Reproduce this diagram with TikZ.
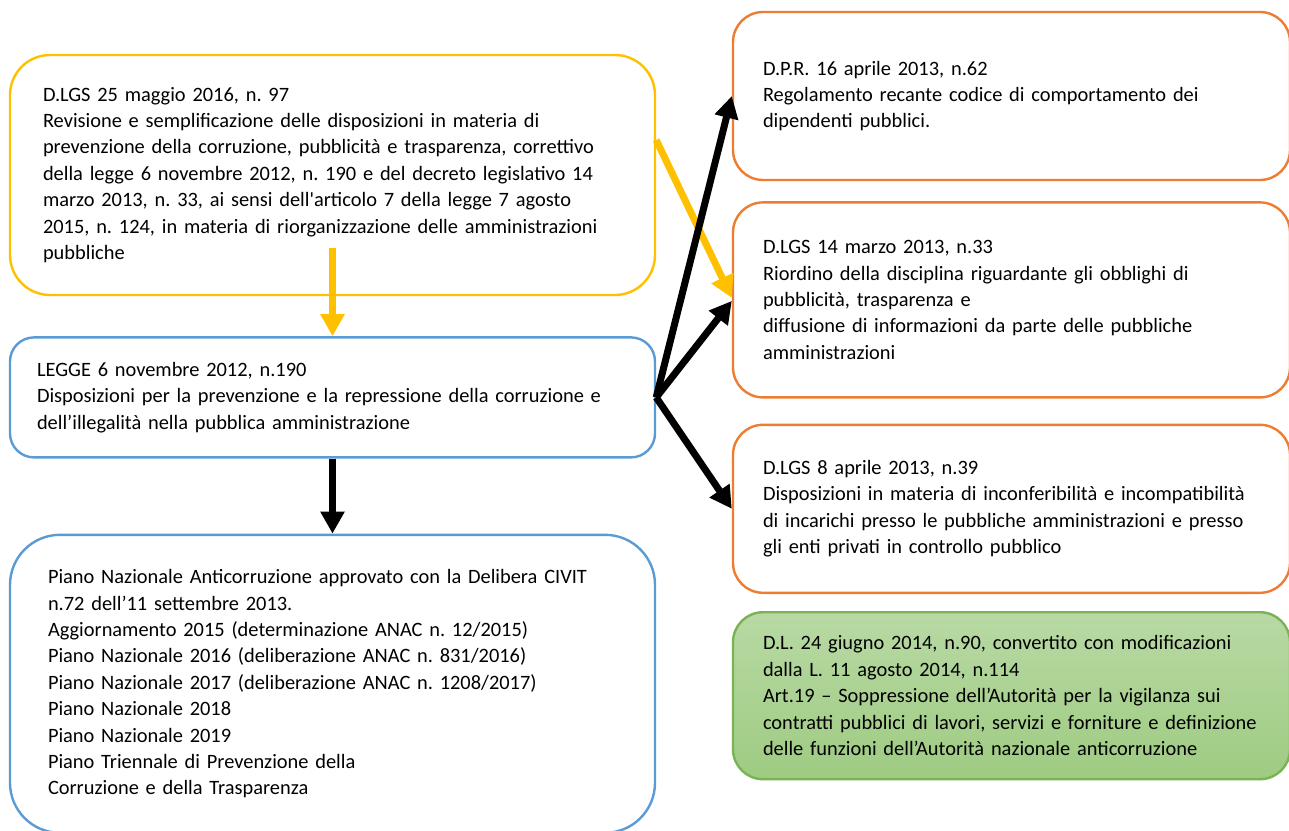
\documentclass[tikz,border=0pt]{standalone}
\usepackage{fontspec}
\setmainfont{Carlito}
\frenchspacing
\usetikzlibrary{positioning,arrows.meta}
\definecolor{ylwline}{RGB}{255,192,0}
\definecolor{blueline}{RGB}{91,155,213}
\definecolor{orgline}{RGB}{237,125,49}
\definecolor{grnline}{RGB}{122,178,84}
\definecolor{grntop}{RGB}{184,217,164}
\definecolor{grnbot}{RGB}{158,203,130}
\tikzset{
semithick,
>={Triangle[length=11pt,width=11.5pt]},
box/.style={draw,line width=1.2pt,align=left,inner ysep=0pt,fill=white,font=\fontsize{10.2}{13.2}\selectfont},
ybox/.style={box,draw=ylwline,rounded corners=20pt,inner xsep=16.5pt,text width=289.5pt,minimum height=120pt},
lbox/.style={box,draw=blueline,rounded corners=12pt,inner xsep=13.5pt,text width=295.5pt,minimum height=60pt},
pbox/.style={box,draw=blueline,rounded corners=25pt,inner xsep=19pt,text width=284.5pt,minimum height=149pt},
obox/.style={box,draw=orgline,rounded corners=15pt,inner xsep=15pt,text width=248.5pt,minimum height=#1},
gbox/.style={box,draw=grnline,rounded corners=15pt,inner xsep=15pt,text width=248.5pt,minimum height=83.5pt,
  top color=grntop,bottom color=grnbot},
yarr/.style={->,color=ylwline,line width=3.5pt},
barr/.style={->,color=black,line width=3.5pt}
}
\begin{document}
\begin{tikzpicture}[x=0.5pt,y=-0.5pt]
\useasboundingbox (0,0) rectangle (1289,830);

% left column
\node[ybox] (dlgs97) at (332.5,175) {D.LGS 25 maggio 2016, n. 97\\
Revisione e semplificazione delle disposizioni in materia di\\
prevenzione della corruzione, pubblicità e trasparenza, correttivo\\
della legge 6 novembre 2012, n. 190 e del decreto legislativo 14\\
marzo 2013, n. 33, ai sensi dell\textquotesingle articolo 7 della legge 7 agosto\\
2015, n. 124, in materia di riorganizzazione delle amministrazioni\\
pubbliche};
\node[lbox] (legge)  [below=20pt of dlgs97] {LEGGE 6 novembre 2012, n.190\\
Disposizioni per la prevenzione e la repressione della corruzione e\\
dell’illegalità nella pubblica amministrazione};
\node[pbox] (piano)  [below=37.5pt of legge] {Piano Nazionale Anticorruzione approvato con la Delibera CIVIT\\
n.72 dell’11 settembre 2013.\\
Aggiornamento 2015 (determinazione ANAC n. 12/2015)\\
Piano Nazionale 2016 (deliberazione ANAC n. 831/2016)\\
Piano Nazionale 2017 (deliberazione ANAC n. 1208/2017)\\
Piano Nazionale 2018\\
Piano Nazionale 2019\\
Piano Triennale di Prevenzione della\\
Corruzione e della Trasparenza};

% right column
\node[obox=84pt] (dpr)    at (1011.5,96) {D.P.R. 16 aprile 2013, n.62\\
Regolamento recante codice di comportamento dei\\
dipendenti pubblici.};
\node[obox=97.5pt] (dlgs33) [below=10pt of dpr] {D.LGS 14 marzo 2013, n.33\\
Riordino della disciplina riguardante gli obblighi di\\
pubblicità, trasparenza e\\
diffusione di informazioni da parte delle pubbliche\\
amministrazioni};
\node[obox=84pt] (dlgs39) [below=12.5pt of dlgs33] {D.LGS 8 aprile 2013, n.39\\
Disposizioni in materia di inconferibilità e incompatibilità\\
di incarichi presso le pubbliche amministrazioni e presso\\
gli enti privati in controllo pubblico};
\node[gbox] (dl90)   [below=8.5pt of dlgs39] {D.L. 24 giugno 2014, n.90, convertito con modificazioni\\
dalla L. 11 agosto 2014, n.114\\
Art.19 – Soppressione dell’Autorità per la vigilanza sui\\
contratti pubblici di lavori, servizi e forniture e definizione\\
delle funzioni dell’Autorità nazionale anticorruzione};

% arrows
\draw[yarr] ([yshift=24pt]dlgs97.south) -- (legge.north);
\draw[yarr] ([yshift=17.5pt]dlgs97.east) -- ([yshift=1pt]dlgs33.west);
\draw[barr] (legge.south) -- (piano.north);
\draw[barr] (legge.east) -- (dpr.west);
\draw[barr] (legge.east) -- ([yshift=-0.5pt]dlgs33.west);
\draw[barr] (legge.east) -- (dlgs39.west);
\end{tikzpicture}
\end{document}
